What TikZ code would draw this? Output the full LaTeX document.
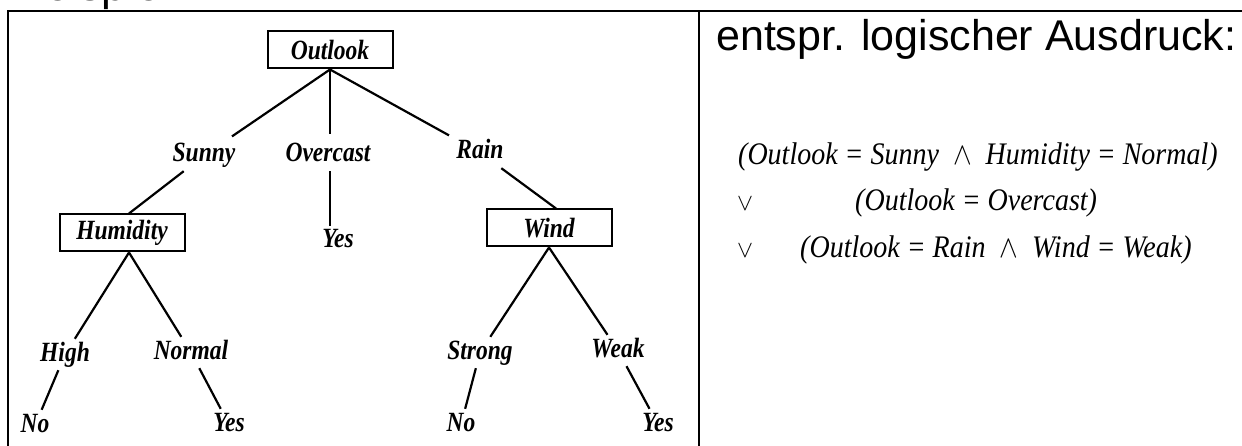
\documentclass[tikz,border=0pt]{standalone}
\usepackage{fix-cm}
\usepackage{fontspec}
\setmainfont{Liberation Serif}
\newfontfamily\arialf{Liberation Sans}
\newcommand\tx[1]{\scalebox{0.98}[1.16]{#1}}
\newcommand\fx[1]{\scalebox{1}[1.12]{#1}}
\begin{document}
\begin{tikzpicture}[x=1pt,y=-1pt,
  frame/.style={line width=2.5pt},
  conn/.style={line width=2.2pt},
  treebox/.style={draw, line width=2pt, minimum width=125pt, minimum height=37pt, inner sep=0pt,
    font=\fontsize{24}{28}\selectfont\bfseries\itshape},
  lab/.style={inner xsep=2pt, inner ysep=4pt, text height=18pt, text depth=5pt, anchor=base,
    font=\fontsize{24}{28}\selectfont\bfseries\itshape},
  formula/.style={anchor=base west, inner sep=0pt, font=\fontsize{28}{32}\selectfont\itshape},
  orsym/.style={anchor=base, inner sep=0pt, font=\fontsize{24}{28}\selectfont}
]
\useasboundingbox (0,0) rectangle (1242,446);
\clip (0,0) rectangle (1242,446);
\fill[white] (0,0) rectangle (1242,446);

% clipped heading above the frame
\node[anchor=base west, inner sep=0pt, font=\arialf\fontsize{44}{50}\selectfont] (head) at (16,1) {Beispiel};

% frame
\draw[frame] (8,446) -- (8,11) -- (1242,11);
\draw[frame] (699,11) -- (699,446);

% tree
\node[treebox] (outlook) at (330,50) {\tx{Outlook}};
\node[lab] (sunny) at (204,162) {\tx{Sunny}};
\node[lab] (overcast) at (328,162) {\tx{Overcast}};
\node[lab] (rain) at (480,159) {\tx{Rain}};
\node[treebox] (hum) at (122,233) {\tx{Humidity}};
\node[lab] (yes1) at (338,248) {\tx{Yes}};
\node[treebox] (wind) at (549,228) {\tx{Wind}};
\node[lab] (high) at (65,361) {\tx{High}};
\node[lab] (normal) at (191,359) {\tx{Normal}};
\node[lab] (strong) at (480,359) {\tx{Strong}};
\node[lab] (weak) at (618,357) {\tx{Weak}};
\node[lab] (no1) at (35,432) {\tx{No}};
\node[lab] (yes2) at (229,431) {\tx{Yes}};
\node[lab] (no2) at (461,431) {\tx{No}};
\node[lab] (yes3) at (658,431) {\tx{Yes}};

\draw[conn, shorten >=6pt] (outlook.south) -- (sunny);
\draw[conn] (outlook.south) -- ([yshift=6pt]outlook.south |- overcast.north);
\draw[conn, shorten >=6pt] (outlook.south) -- (rain);
\draw[conn] (sunny) -- ([xshift=7pt]hum.north);
\draw[conn] (overcast.south -| outlook.south) -- (yes1.north -| outlook.south);
\draw[conn] (rain) -- ([xshift=7pt]wind.north);
\draw[conn] ([xshift=7pt]hum.south) -- (high);
\draw[conn] ([xshift=7pt]hum.south) -- (normal);
\draw[conn] (high) -- (no1);
\draw[conn] (normal) -- (yes2);
\draw[conn] (wind.south) -- (strong);
\draw[conn] (wind.south) -- (weak);
\draw[conn] (strong) -- (no2);
\draw[conn] (weak) -- (yes3);

% right panel
\node[anchor=base west, inner sep=0pt, font=\arialf\fontsize{43}{50}\selectfont] (title) at (716,51) {entspr. logischer Ausdruck:};
\node[formula] (f1) at (738,165) {\fx{(Outlook = Sunny \ $\wedge$ \ Humidity = Normal)}};
\node[orsym] (or1) at (745,211) {$\vee$};
\node[formula] (f2) at (855,211) {\fx{(Outlook = Overcast)}};
\node[orsym] (or2) at (745,258) {$\vee$};
\node[formula] (f3) at (800,258) {\fx{(Outlook = Rain \ $\wedge$ \ Wind = Weak)}};
\end{tikzpicture}
\end{document}
